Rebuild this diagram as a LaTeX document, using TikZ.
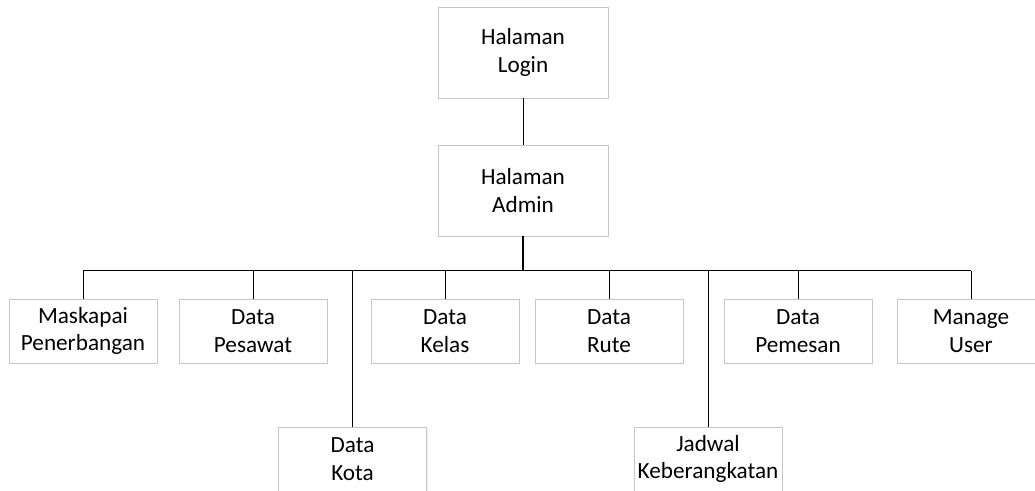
\documentclass[tikz,border=0pt]{standalone}
\usepackage{fontspec}
\setmainfont{Carlito}
\usepackage{tikz}
\usetikzlibrary{shadows}

\begin{document}
\begin{tikzpicture}[x=1pt, y=-1pt,
    menubox/.style={shape=rectangle, draw=gray!45, fill=white, line width=0.8pt, align=center,
        font=\fontsize{23.2}{27.8}\selectfont, inner sep=0pt,
        drop shadow={shadow xshift=1.2pt, shadow yshift=-1.2pt, opacity=0.12}},
    wire/.style={line width=0.8pt},
    bus/.style={line width=1.3pt}]
    		% Bounding box:
    		\useasboundingbox (0,0) rectangle (1035,490);
    		% Paths, nodes and wires:
    		\node[menubox, minimum width=170, minimum height=91](N1) at (523, 52.5){Halaman\\Login};
    		\node[menubox, minimum width=170, minimum height=91](N2) at (523, 190.5){Halaman\\Admin};
    		\node[menubox, minimum width=148, minimum height=64](N3) at (83, 331){Maskapai\\Penerbangan};
    		\node[menubox, minimum width=148, minimum height=64](N4) at (253, 331){Data\\Pesawat};
    		\node[menubox, minimum width=148, minimum height=64](N5) at (352.5, 459){Data\\Kota};
    		\node[menubox, minimum width=148, minimum height=64](N6) at (445, 331){Data\\Kelas};
    		\node[menubox, minimum width=148, minimum height=64](N7) at (609, 331){Data\\Rute};
    		\node[menubox, minimum width=148, minimum height=64](N8) at (708, 459){Jadwal\\Keberangkatan};
    		\node[menubox, minimum width=148, minimum height=64](N9) at (798, 331){Data\\Pemesan};
    		\node[menubox, minimum width=148, minimum height=64](N10) at (971, 331){Manage\\User};
    		\coordinate (B) at (523, 270.5);
    		\draw[wire] (N1) -- (N2);
    		\draw[bus] (N2) -- (B);
    		\draw[bus] (N3.north |- B) -- (N10.north |- B);
    		\foreach \n in {N3, N4, N5, N6, N7, N8, N9, N10}
    			\draw[wire] (\n.north) -- (\n.north |- B);
    	\end{tikzpicture}
\end{document}
